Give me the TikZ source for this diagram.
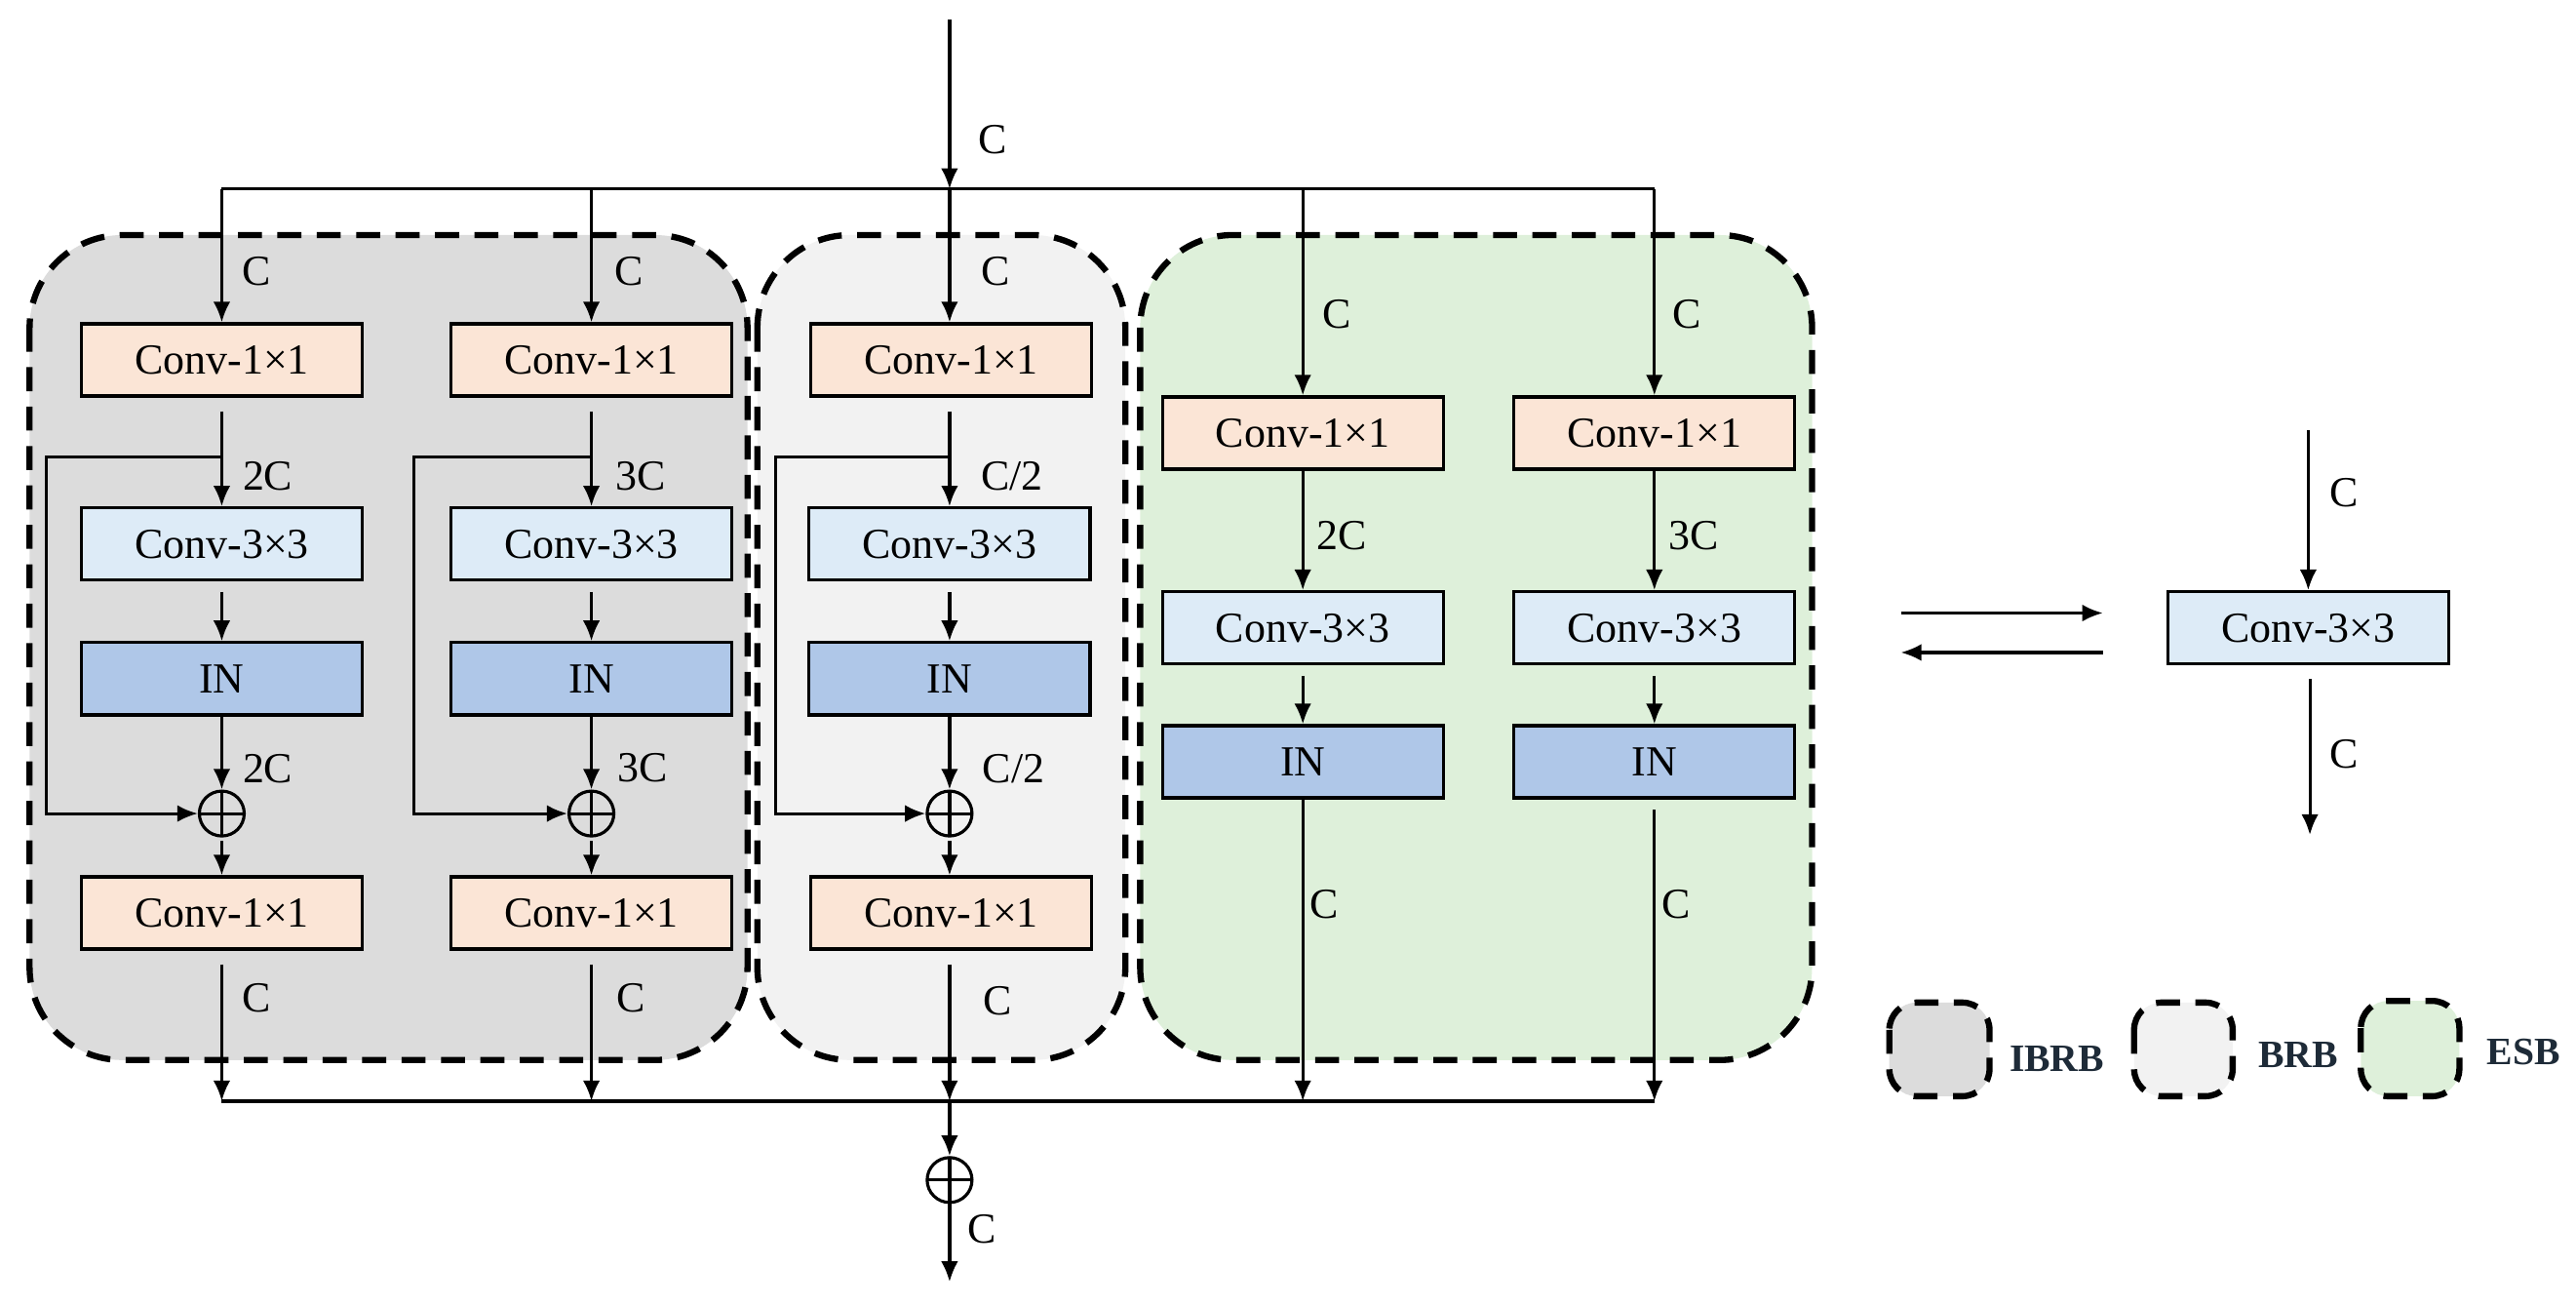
\documentclass[tikz,border=0pt]{standalone}
\usepackage{fontspec}
\setmainfont{Liberation Serif}
\usetikzlibrary{arrows.meta}
\definecolor{peach}{HTML}{FBE5D6}
\definecolor{lblue}{HTML}{DDEBF7}
\definecolor{inblue}{HTML}{AFC7E8}
\definecolor{ggray}{HTML}{DCDCDC}
\definecolor{lgray}{HTML}{F2F2F2}
\definecolor{lgreen}{HTML}{DEF0DA}
\definecolor{navy}{HTML}{1E2B38}
\begin{document}
\begin{tikzpicture}[x=0.01685cm,y=-0.01685cm,
  font=\fontsize{12.5}{14}\selectfont,
  ln/.style={line width=0.9pt},
  arr/.style={line width=0.9pt,-{Latex[length=6pt,width=5pt]}},
  blk/.style={draw, line width=0.9pt, minimum width=2.88cm, minimum height=0.74cm, inner sep=0pt},
  cone/.style={blk, fill=peach},
  cthree/.style={blk, fill=lblue},
  inb/.style={blk, fill=inblue},
  grp/.style={draw, line width=1.8pt, dash pattern=on 7pt off 4.5pt, rounded corners=0.95cm},
  leg/.style={draw, line width=1.8pt, dash pattern=on 7pt off 4.5pt, rounded corners=0.28cm},
  plus/.style={circle, draw, line width=0.9pt, minimum size=0.46cm, inner sep=0pt,
    path picture={\draw[line width=0.9pt] (path picture bounding box.north) -- (path picture bounding box.south)
      (path picture bounding box.west) -- (path picture bounding box.east);}},
  lab/.style={inner sep=0pt},
  legtxt/.style={inner sep=0pt, font=\fontsize{11.3}{13}\selectfont\bfseries, text=navy}
]
\useasboundingbox (0,0) rectangle (1568,795);

% groups
\draw[grp, fill=ggray] (18,143) rectangle (455,645);
\draw[grp, fill=lgray] (461,143) rectangle (685,645);
\draw[grp, fill=lgreen] (694,143) rectangle (1103,645);

% column A (IBRB 1)
\node[cone] (a1) at (135,219) {Conv-1×1};
\node[cthree] (a2) at (135,331) {Conv-3×3};
\node[inb] (a3) at (135,413) {IN};
\node[plus] (a4) at (135,495) {};
\node[cone] (a5) at (135,555.5) {Conv-1×1};
% column B (IBRB 2)
\node[cone] (b1n) at (360,219) {Conv-1×1};
\node[cthree] (b2n) at (360,331) {Conv-3×3};
\node[inb] (b3n) at (360,413) {IN};
\node[plus] (b4n) at (360,495) {};
\node[cone] (b5n) at (360,555.5) {Conv-1×1};
% column M (BRB)
\node[cone] (m1) at (579,219) {Conv-1×1};
\node[cthree] (m2) at (578,331) {Conv-3×3};
\node[inb] (m3) at (578,413) {IN};
\node[plus] (m4) at (578,495) {};
\node[cone] (m5) at (579,555.5) {Conv-1×1};
% column E (ESB 1)
\node[cone] (e1) at (793,263.5) {Conv-1×1};
\node[cthree] (e2) at (793,382) {Conv-3×3};
\node[inb] (e3) at (793,463.5) {IN};
% column F (ESB 2)
\node[cone] (f1) at (1007,263.5) {Conv-1×1};
\node[cthree] (f2) at (1007,382) {Conv-3×3};
\node[inb] (f3) at (1007,463.5) {IN};

% coordinates
\coordinate (in) at (578,12);
\coordinate (t1) at (135,115);
\coordinate (t2) at (360,115);
\coordinate (t3) at (578,115);
\coordinate (t4) at (793,115);
\coordinate (t5) at (1007,115);
\coordinate (d1) at (135,670);
\coordinate (d2) at (360,670);
\coordinate (d3) at (578,670);
\coordinate (d4) at (793,670);
\coordinate (d5) at (1007,670);
\coordinate (s1) at (135,278);
\coordinate (s2) at (360,278);
\coordinate (s3) at (578,278);
\node[plus] (pf) at (578,718) {};
\coordinate (out) at (578,780);

% top distribution
\draw[arr] (in) -- (t3);
\draw[ln] (t1) -- (t5);
\draw[arr] (t1) -- (a1.north);
\draw[arr] (t2) -- (b1n.north);
\draw[arr] (t3) -- (m1.north -| t3);
\draw[arr] (t4) -- (e1.north);
\draw[arr] (t5) -- (f1.north);

% column A
\draw[arr, shorten <=4pt] (a1.south) -- (a2.north);
\draw[arr, shorten <=3pt] (a2.south) -- (a3.north);
\draw[arr] (a3.south) -- (a4.north);
\draw[arr, shorten <=1pt] (a4.south) -- (a5.north);
\draw[arr, shorten <=4pt] (a5.south) -- (d1);
\draw[arr] (s1) -- ++(-107,0) |- (a4.west);
% column B
\draw[arr, shorten <=4pt] (b1n.south) -- (b2n.north);
\draw[arr, shorten <=3pt] (b2n.south) -- (b3n.north);
\draw[arr] (b3n.south) -- (b4n.north);
\draw[arr, shorten <=1pt] (b4n.south) -- (b5n.north);
\draw[arr, shorten <=4pt] (b5n.south) -- (d2);
\draw[arr] (s2) -- ++(-108,0) |- (b4n.west);
% column M
\draw[arr, shorten <=4pt] (m1.south -| t3) -- (m2.north);
\draw[arr, shorten <=3pt] (m2.south) -- (m3.north);
\draw[arr] (m3.south) -- (m4.north);
\draw[arr, shorten <=1pt] (m4.south) -- (m5.north -| m4);
\draw[arr, shorten <=4pt] (m5.south -| t3) -- (d3);
\draw[arr] (s3) -- ++(-106,0) |- (m4.west);
% column E
\draw[arr] (e1.south) -- (e2.north);
\draw[arr, shorten <=3pt] (e2.south) -- (e3.north);
\draw[arr] (e3.south) -- (d4);
% column F
\draw[arr] (f1.south) -- (f2.north);
\draw[arr, shorten <=3pt] (f2.south) -- (f3.north);
\draw[arr, shorten <=3pt] (f3.south) -- (d5);

% bottom merge
\draw[ln] (d1) -- (d5);
\draw[arr] (d3) -- (pf.north);
\draw[arr] (pf.south) -- (out);

% labels
\node[lab] at (604,85) {C};
\node[lab] at (156,165) {C};
\node[lab] at (383,165) {C};
\node[lab] at (606,165) {C};
\node[lab] at (814,191) {C};
\node[lab] at (1027,191) {C};
\node[lab] at (163,290) {2C};
\node[lab] at (390,290) {3C};
\node[lab] at (616,290) {C/2};
\node[lab] at (817,326) {2C};
\node[lab] at (1031,326) {3C};
\node[lab] at (163,468) {2C};
\node[lab] at (391,467) {3C};
\node[lab] at (617,468) {C/2};
\node[lab] at (156,607) {C};
\node[lab] at (384,607) {C};
\node[lab] at (607,609) {C};
\node[lab] at (806,550) {C};
\node[lab] at (1020,550) {C};
\node[lab] at (598,748) {C};

% right equivalence
\coordinate (ra1) at (1157,373);
\coordinate (ra2) at (1280,373);
\coordinate (rb1) at (1280,397);
\coordinate (rb2) at (1157,397);
\draw[arr] (ra1) -- (ra2);
\draw[arr] (rb1) -- (rb2);
\node[cthree] (r1) at (1405,382) {Conv-3×3};
\coordinate (rin) at (1405,262);
\coordinate (rout) at (1406,508);
\draw[arr] (rin) -- (r1.north);
\draw[arr, shorten <=4pt] (r1.south -| rout) -- (rout);
\node[lab] at (1427,300) {C};
\node[lab] at (1427,459) {C};

% legend
\draw[leg, fill=ggray] (1150,610) rectangle (1211,667);
\node[legtxt] at (1252,644) {IBRB};
\draw[leg, fill=lgray] (1299,610) rectangle (1359,667);
\node[legtxt] at (1399,642) {BRB};
\draw[leg, fill=lgreen] (1437,609) rectangle (1497,667);
\node[legtxt] at (1536,640) {ESB};
\end{tikzpicture}
\end{document}
